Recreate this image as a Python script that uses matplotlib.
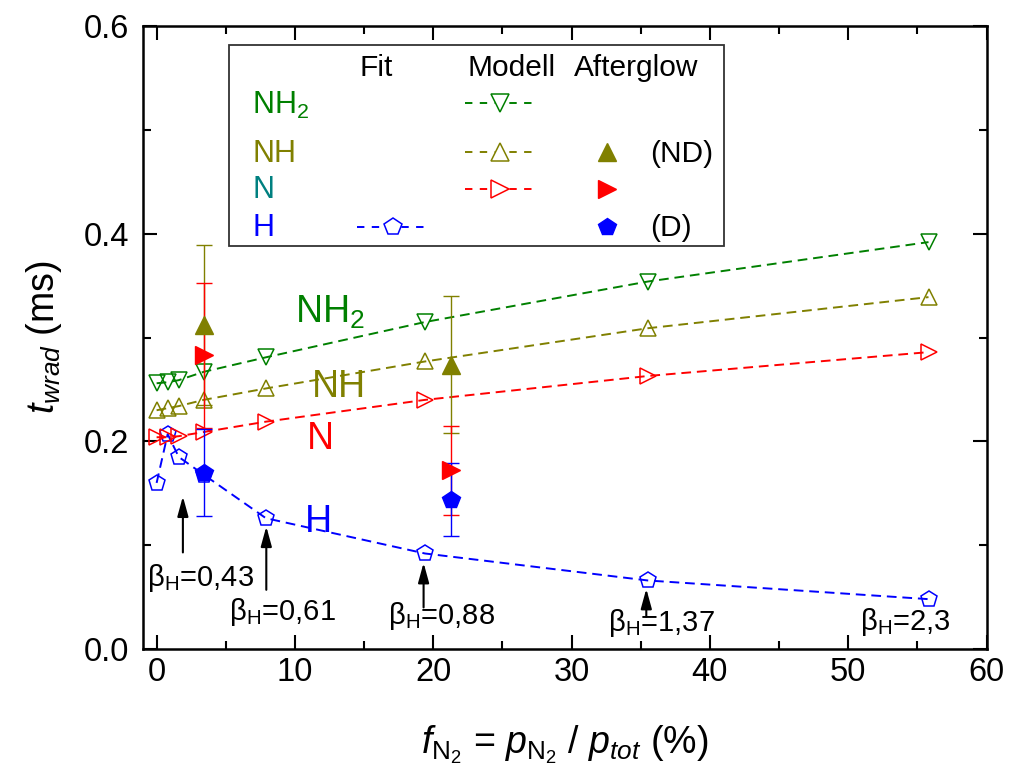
import matplotlib
matplotlib.use('Agg')
import matplotlib.pyplot as plt
from matplotlib.patches import Rectangle
from matplotlib.ticker import MultipleLocator, FormatStrFormatter

plt.rcParams['font.family'] = ['Liberation Sans', 'DejaVu Sans']
plt.rcParams['mathtext.fontset'] = 'custom'
plt.rcParams['mathtext.rm'] = 'Liberation Sans'
plt.rcParams['mathtext.it'] = 'Liberation Sans:italic'
plt.rcParams['mathtext.bf'] = 'Liberation Sans:bold'

# Modell / Fit values
f_n2 = [0, 0.8, 1.6, 3.4, 7.9, 19.4, 35.5, 55.8]
t_nh2 = [0.256, 0.257, 0.259, 0.267, 0.281, 0.315, 0.354, 0.392]
t_nh = [0.230, 0.232, 0.234, 0.240, 0.251, 0.277, 0.309, 0.339]
t_n = [0.204, 0.204, 0.205, 0.209, 0.219, 0.240, 0.263, 0.286]
t_h = [0.160, 0.207, 0.185, 0.168, 0.126, 0.092, 0.066, 0.048]

# Afterglow values with errors
f_ag = [3.4, 21.3]
ag_nh = [0.312, 0.274]
ag_nh_err = [0.077, 0.066]
ag_n = [0.283, 0.172]
ag_n_err = [0.070, 0.043]
ag_h = [0.170, 0.144]
ag_h_err = [0.042, 0.035]

# beta_H annotations: label, text x, text y, arrow x, arrow tail, arrow tip
beta_labels = ['0,43', '0,61', '0,88', '1,37', '2,3']
beta_text_x = [-0.7, 5.2, 16.7, 32.6, 50.85]
beta_text_y = [0.061, 0.028, 0.024, 0.017, 0.018]
arrow_x = [1.9, 7.93, 19.3, 35.4]
arrow_tail = [0.093, 0.057, 0.040, 0.031]
arrow_tip = [0.147, 0.118, 0.083, 0.058]

green = '#008000'
olive = '#808000'
red = '#FF0000'
blue = '#0000FF'
teal = '#008080'

fig = plt.figure(figsize=(10.09, 7.76), dpi=100)
ax = fig.add_axes([0.1415, 0.1637, 0.8363, 0.8025])

dash = (0, (5, 3))
ax.plot(f_n2, t_h, ls=dash, lw=1.4, color=blue, marker='p', ms=12, mfc='none', mec=blue, mew=1.1)
ax.plot(f_n2, t_n, ls=dash, lw=1.4, color=red, marker='>', ms=12, mfc='none', mec=red, mew=1.1)
ax.plot(f_n2, t_nh, ls=dash, lw=1.4, color=olive, marker='^', ms=12, mfc='none', mec=olive, mew=1.1)
ax.plot(f_n2, t_nh2, ls=dash, lw=1.4, color=green, marker='v', ms=12, mfc='none', mec=green, mew=1.1)

ax.errorbar(f_ag, ag_nh, yerr=ag_nh_err, fmt='^', ms=13, color=olive, ecolor=olive, elinewidth=1, capsize=6, capthick=1)
ax.errorbar(f_ag, ag_n, yerr=ag_n_err, fmt='>', ms=13, color=red, ecolor=red, elinewidth=1, capsize=6, capthick=1)
ax.errorbar(f_ag, ag_h, yerr=ag_h_err, fmt='p', ms=13, color=blue, ecolor=blue, elinewidth=1, capsize=6, capthick=1)

# in-plot species labels
ax.text(10.03, 0.314, 'NH$_2$', color=green, fontsize=27, va='baseline')
ax.text(11.24, 0.243, 'NH', color=olive, fontsize=27, va='baseline')
ax.text(10.88, 0.193, 'N', color=red, fontsize=27, va='baseline')
ax.text(10.75, 0.113, 'H', color=blue, fontsize=27, va='baseline')

# beta_H arrows and labels
for i in range(len(arrow_x)):
    ax.annotate('', xy=(arrow_x[i], arrow_tip[i]), xytext=(arrow_x[i], arrow_tail[i]),
                arrowprops=dict(arrowstyle='-|>,head_length=0.8,head_width=0.22',
                                color='black', lw=1.5, mutation_scale=15, shrinkA=0, shrinkB=0))
for i in range(len(beta_labels)):
    ax.text(beta_text_x[i], beta_text_y[i], 'β$_\\mathrm{H}$=' + beta_labels[i],
            fontsize=21, va='baseline', ha='left')

# custom legend table
tr = ax.transAxes
ax.add_patch(Rectangle((0.102, 0.647), 0.587, 0.3225, transform=tr, fill=False,
                       edgecolor='#333333', lw=1.3, zorder=5))
ax.text(0.2566, 0.9197, 'Fit', transform=tr, fontsize=21.5, va='baseline')
ax.text(0.3846, 0.9197, 'Modell', transform=tr, fontsize=21.5, va='baseline')
ax.text(0.511, 0.9197, 'Afterglow', transform=tr, fontsize=21.5, va='baseline')

ax.text(0.1298, 0.8587, 'NH$_2$', transform=tr, fontsize=22, color=green, va='baseline')
ax.text(0.1298, 0.7822, 'NH', transform=tr, fontsize=22, color=olive, va='baseline')
ax.text(0.1298, 0.7234, 'N', transform=tr, fontsize=22, color=teal, va='baseline')
ax.text(0.1298, 0.663, 'H', transform=tr, fontsize=22, color=blue, va='baseline')

leg_dash = (0, (3.8, 3.8))
rows = [(0.876, green, 'v'), (0.798, olive, '^'), (0.738, red, '>')]
for yy, c, m in rows:
    ax.plot([0.382, 0.465], [yy, yy], transform=tr, ls=leg_dash, lw=1.4, color=c)
    ax.plot([0.423], [yy], transform=tr, marker=m, ms=13, mfc='white', mec=c, mew=1.1, ls='none')
ax.plot([0.2535, 0.3365], [0.678, 0.678], transform=tr, ls=leg_dash, lw=1.4, color=blue)
ax.plot([0.296], [0.678], transform=tr, marker='p', ms=13, mfc='white', mec=blue, mew=1.1, ls='none')

ax.plot([0.550], [0.798], transform=tr, marker='^', ms=13, color=olive, ls='none')
ax.plot([0.550], [0.738], transform=tr, marker='>', ms=13, color=red, ls='none')
ax.plot([0.550], [0.678], transform=tr, marker='p', ms=13, color=blue, ls='none')
ax.text(0.601, 0.7822, '(ND)', transform=tr, fontsize=21.5, va='baseline')
ax.text(0.601, 0.663, '(D)', transform=tr, fontsize=21.5, va='baseline')

# axes styling
ax.set_xlim(-1, 60)
ax.set_ylim(0, 0.6)
ax.xaxis.set_major_locator(MultipleLocator(10))
ax.xaxis.set_minor_locator(MultipleLocator(5))
ax.yaxis.set_major_locator(MultipleLocator(0.2))
ax.yaxis.set_minor_locator(MultipleLocator(0.1))
ax.yaxis.set_major_formatter(FormatStrFormatter('%.1f'))
ax.tick_params(which='both', direction='in', top=True, right=True, width=1.5, labelsize=23.5)
ax.tick_params(which='major', length=10)
ax.tick_params(which='minor', length=6)
ax.tick_params(axis='x', pad=6)
ax.tick_params(axis='y', pad=10)
for s in ax.spines.values():
    s.set_linewidth(1.8)

ax.set_xlabel(r'$f_{\mathrm{N}_2}$ = $p_{\mathrm{N}_2}$ / $p_{tot}$ (%)', fontsize=27, labelpad=25)
ax.set_ylabel(r'$t_{wrad}$ (ms)', fontsize=27, labelpad=14)

fig.savefig('out.png', dpi=100)
